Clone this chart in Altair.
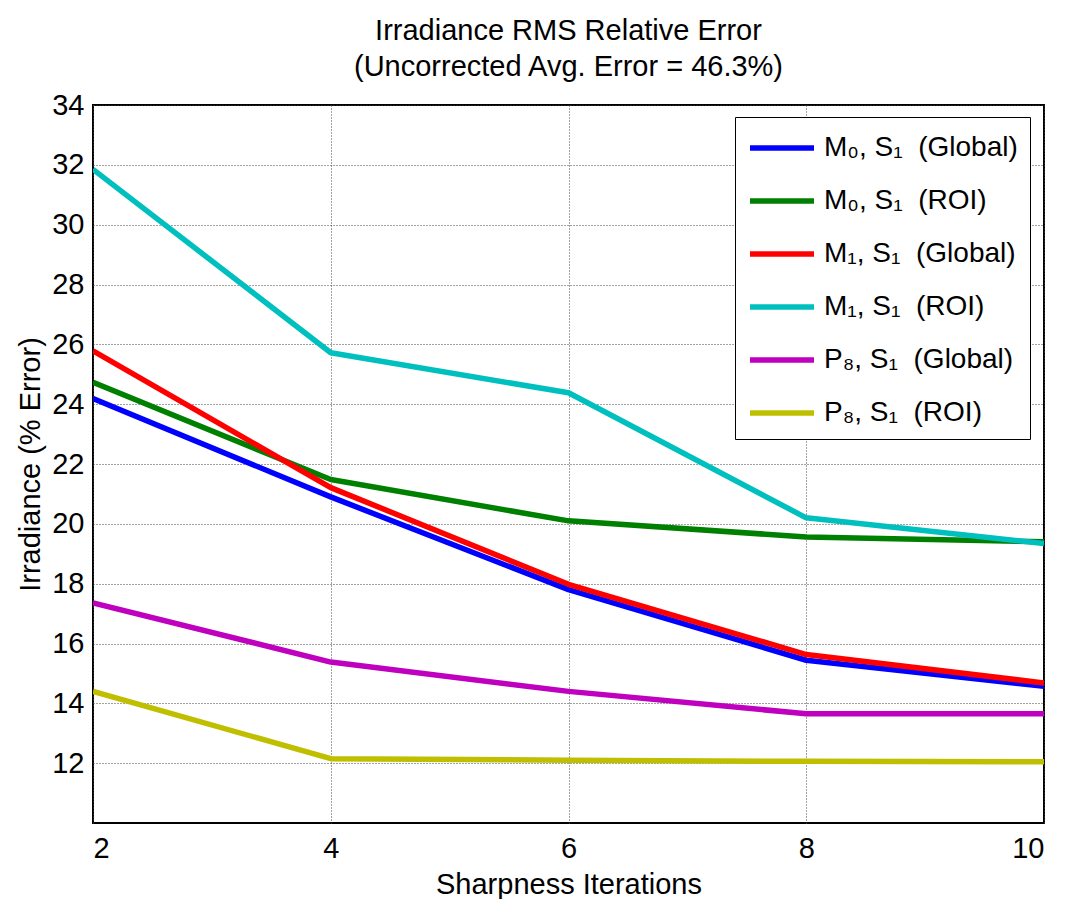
import altair as alt
import pandas as pd

iterations = [2, 4, 6, 8, 10]

NB = "\u00a0"
labels = [
    "M₀, S₁" + NB + NB + "(Global)",
    "M₀, S₁" + NB + NB + "(ROI)",
    "M₁, S₁" + NB + NB + "(Global)",
    "M₁, S₁" + NB + NB + "(ROI)",
    "P₈, S₁" + NB + NB + "(Global)",
    "P₈, S₁" + NB + NB + "(ROI)",
]
colors = ["#0000FF", "#008000", "#FF0000", "#00BFBF", "#BF00BF", "#BFBF00"]

m0_global = [24.19, 20.90, 17.80, 15.44, 14.57]
m0_roi = [24.73, 21.48, 20.10, 19.56, 19.40]
m1_global = [25.78, 21.21, 17.98, 15.63, 14.68]
m1_roi = [31.85, 25.72, 24.38, 20.20, 19.34]
p8_global = [17.36, 15.38, 14.40, 13.65, 13.65]
p8_roi = [14.40, 12.15, 12.10, 12.06, 12.05]

series = [m0_global, m0_roi, m1_global, m1_roi, p8_global, p8_roi]

y_ticks = [12, 14, 16, 18, 20, 22, 24, 26, 28, 30, 32, 34]

rows = []
for lab, vals in zip(labels, series):
    for x, v in zip(iterations, vals):
        rows.append({"series": lab, "iter": x, "err": v})
df = pd.DataFrame(rows)

FONT = "Liberation Sans"

chart = (
    alt.Chart(df)
    .mark_line(strokeWidth=5.5, strokeJoin="round", clip=True)
    .encode(
        x=alt.X(
            "iter:Q",
            scale=alt.Scale(domain=[2, 10], nice=False, zero=False),
            axis=alt.Axis(
                title="Sharpness Iterations",
                values=iterations,
                format="d",
                labelFontSize=29,
                labelPadding=11,
                titleFontSize=29,
                titleFontWeight="normal",
                titleY=61,
                titleBaseline="middle",
                ticks=False,
                domain=False,
                grid=True,
                gridDash=[1, 2],
                gridColor="#444444",
                gridWidth=1,
            ),
        ),
        y=alt.Y(
            "err:Q",
            scale=alt.Scale(domain=[10, 34], nice=False, zero=False),
            axis=alt.Axis(
                title="Irradiance (% Error)",
                values=y_ticks,
                labelFontSize=29,
                labelPadding=9,
                titleFontSize=29,
                titleFontWeight="normal",
                titleX=-63,
                titleY=359,
                titleAngle=-90,
                titleAlign="center",
                titleBaseline="middle",
                ticks=False,
                domain=False,
                grid=True,
                gridDash=[1, 2],
                gridColor="#444444",
                gridWidth=1,
            ),
        ),
        color=alt.Color(
            "series:N",
            sort=labels,
            scale=alt.Scale(domain=labels, range=colors),
            legend=alt.Legend(
                title=None,
                orient="none",
                legendX=642,
                legendY=12,
                symbolType="M-1,0H3",
                symbolStrokeWidth=5.5,
                symbolSize=1024,
                labelFontSize=28,
                labelFont=FONT,
                labelColor="black",
                labelLimit=0,
                strokeColor="black",
                fillColor="white",
                padding=12,
                rowPadding=20,
                labelOffset=39,
            ),
        ),
    )
    .properties(
        width=951,
        height=718,
        title=alt.TitleParams(
            text=["Irradiance RMS Relative Error", "(Uncorrected Avg. Error = 46.3%)"],
            fontSize=29,
            fontWeight="normal",
            font=FONT,
            color="black",
            lineHeight=36,
            anchor="middle",
            offset=9,
        ),
        autosize=alt.AutoSizeParams(type="none"),
        padding={"left": 93, "top": 105, "right": 23, "bottom": 76},
    )
    .configure(font=FONT, background="white")
    .configure_axis(labelColor="black", titleColor="black", labelFont=FONT, titleFont=FONT)
    .configure_view(stroke="black", strokeWidth=2)
)

chart.save("out.html", embed_options={"renderer": "svg", "actions": False})
